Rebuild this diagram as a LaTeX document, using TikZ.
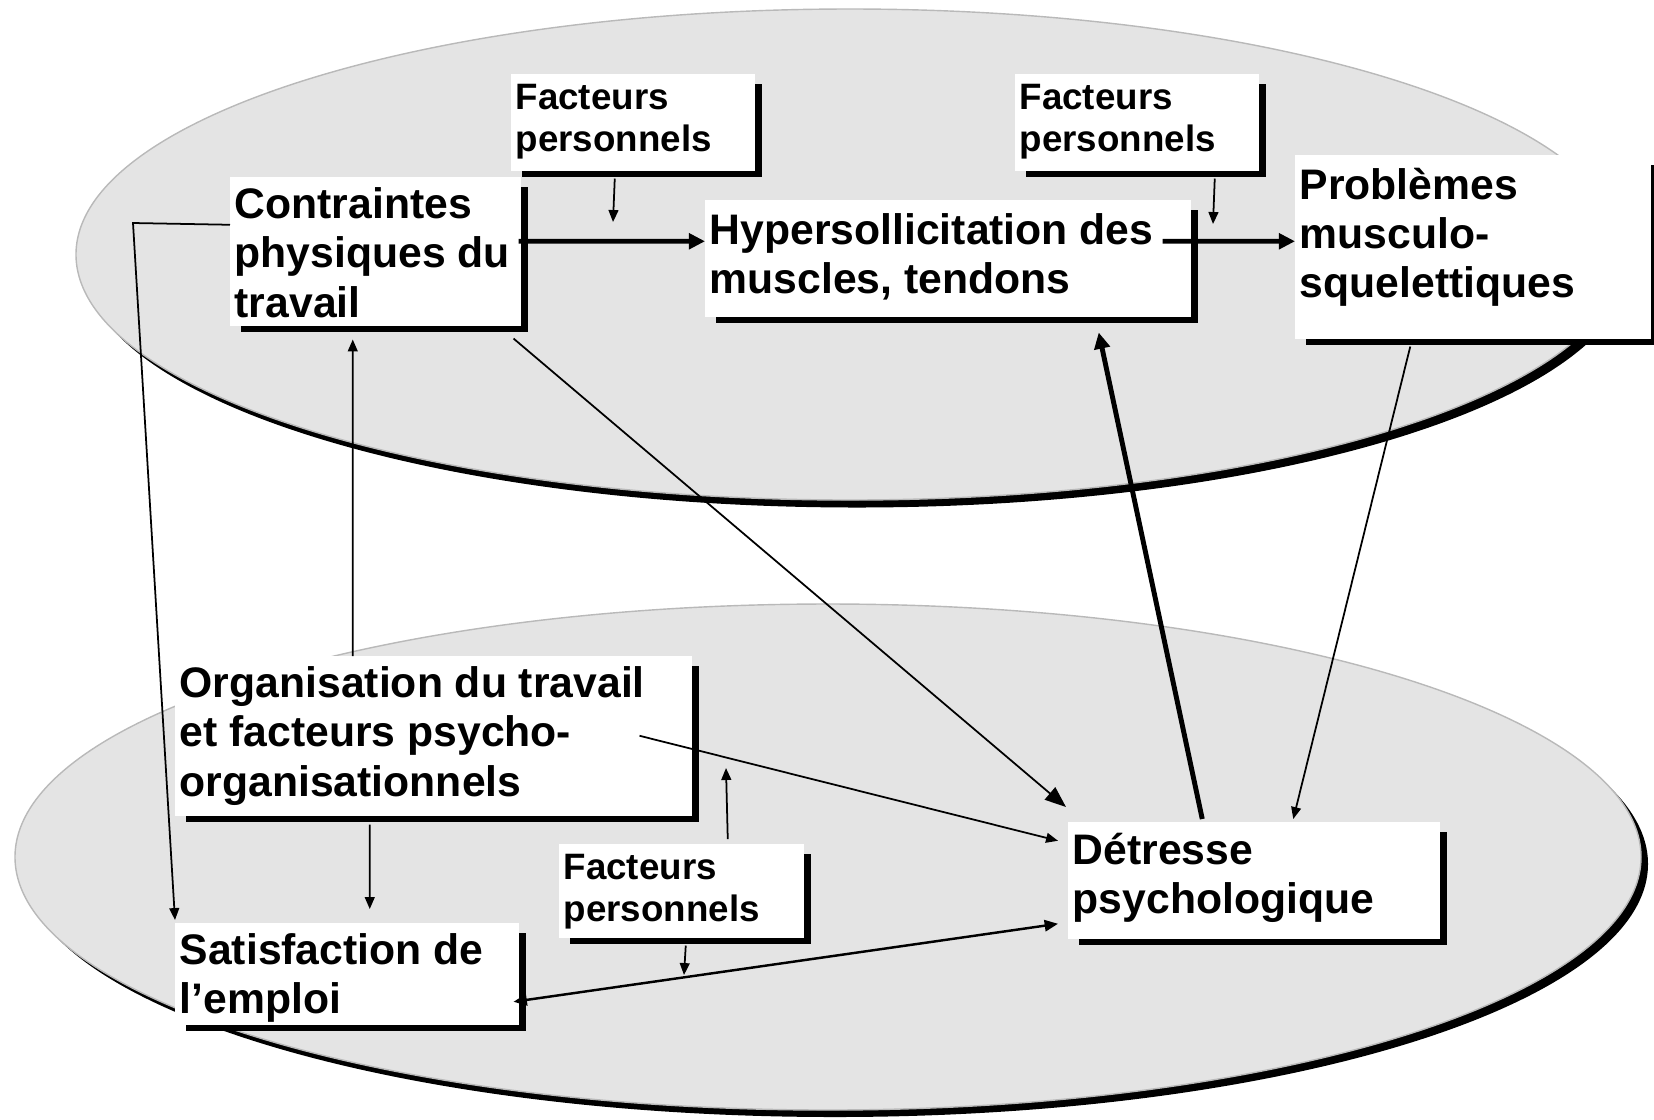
\documentclass[tikz,border=0pt]{standalone}
\usepackage{fontspec}
\setmainfont{Liberation Sans}
\usetikzlibrary{arrows.meta,shadows}
\definecolor{planegray}{RGB}{228,228,228}
\tikzstyle{plane}=[fill=planegray,draw=gray!55,line width=0.4pt]
\tikzstyle{box}=[rectangle,anchor=north west,fill=white,draw=white,line width=1pt,inner sep=0pt,
  drop shadow={fill=black,opacity=1,shadow xshift=0.09cm,shadow yshift=-0.08cm}]
\tikzstyle{bigtext}=[anchor=north west,align=left,inner sep=0pt,font=\fontsize{12.15}{14}\selectfont\bfseries]
\tikzstyle{smalltext}=[anchor=north west,align=left,inner sep=0pt,font=\fontsize{10.45}{11.9}\selectfont\bfseries]
\tikzstyle{link}=[->,line width=0.5pt,>={Triangle[length=3.4pt,width=2.8pt]}]
\tikzstyle{twoway}=[<->,line width=0.7pt,>={Triangle[length=3.8pt,width=3.2pt]}]
\tikzstyle{mainlink}=[->,line width=1.4pt,>={Triangle[length=4.6pt,width=4.4pt]}]

\begin{document}
\begin{tikzpicture}
  \useasboundingbox (0,0) rectangle (16.54,-11.19);

  % the two planes
  \fill[black] (8.57,-2.62) ellipse [x radius=7.74cm, y radius=2.455cm];
  \draw[plane] (8.50,-2.545) ellipse [x radius=7.74cm, y radius=2.455cm];
  \fill[black] (8.35,-8.64) ellipse [x radius=8.13cm, y radius=2.53cm];
  \draw[plane] (8.28,-8.57) ellipse [x radius=8.13cm, y radius=2.53cm];

  % boxes
  \node[box,minimum width=2.40cm,minimum height=0.93cm] (F1) at (5.11,-0.74) {};
  \node[box,minimum width=2.40cm,minimum height=0.93cm] (F2) at (10.15,-0.74) {};
  \node[box,minimum width=2.87cm,minimum height=1.45cm] (C) at (2.30,-1.77) {};
  \node[box,minimum width=4.82cm,minimum height=1.13cm] (H) at (7.05,-2.00) {};
  \node[box,minimum width=3.52cm,minimum height=1.80cm] (P) at (12.95,-1.55) {};
  \node[box,minimum width=5.13cm,minimum height=1.56cm] (O) at (1.75,-6.56) {};
  \node[box,minimum width=3.40cm,minimum height=0.98cm] (S) at (1.75,-9.23) {};
  \node[box,minimum width=2.41cm,minimum height=0.90cm] (F3) at (5.59,-8.44) {};
  \node[box,minimum width=3.68cm,minimum height=1.13cm] (D) at (10.68,-8.22) {};

  % texts
  \node[smalltext] (F1t) at ([shift={(0.04,-0.10)}]F1.north west) {Facteurs\\personnels};
  \node[smalltext] (F2t) at ([shift={(0.04,-0.10)}]F2.north west) {Facteurs\\personnels};
  \node[smalltext] (F3t) at ([shift={(0.04,-0.10)}]F3.north west) {Facteurs\\personnels};
  \node[bigtext] (Ct) at ([shift={(0.04,-0.10)}]C.north west) {Contraintes\\physiques du\\travail};
  \node[bigtext] (Ht) at ([shift={(0.04,-0.13)}]H.north west) {Hypersollicitation des\\muscles, tendons};
  \node[bigtext] (Pt) at ([shift={(0.04,-0.12)}]P.north west) {Problèmes\\musculo-\\squelettiques};
  \node[bigtext] (Ot) at ([shift={(0.04,-0.10)}]O.north west) {Organisation du travail\\et facteurs psycho-\\organisationnels};
  \node[bigtext] (St) at ([shift={(0.04,-0.10)}]S.north west) {Satisfaction de\\l’emploi};
  \node[bigtext] (Dt) at ([shift={(0.04,-0.10)}]D.north west) {Détresse\\psychologique};

  % points where the personal factors act
  \coordinate (k1) at (6.13,-2.22);
  \coordinate (k2) at (12.13,-2.24);
  \coordinate (k3) at (7.26,-7.68);
  \coordinate (k4) at (6.84,-9.75);
  \coordinate (bend) at (1.33,-2.23);

  % links
  \draw[mainlink] ([shift={(-0.02,0.10)}]C.east) -- ([yshift=0.17cm]H.west);
  \draw[mainlink] ([shift={(-0.28,0.17)}]H.east) -- ([yshift=0.055cm]P.west);
  \draw[mainlink] ([shift={(-0.515,0.03)}]D.north) -- ([shift={(1.51,-0.16)}]H.south);
  \draw[link] ([shift={(-0.18,-0.08)}]F1.south) -- (k1);
  \draw[link] ([shift={(0.78,-0.08)}]F2.south) -- (k2);
  \draw[link] ([xshift=-0.805cm]O.north) -- ([shift={(-0.225,-0.14)}]C.south);
  \draw[link] ([yshift=0.265cm]C.west) -- (bend) -- ([yshift=0.03cm]S.north west);
  \draw[link,>={Triangle[length=6pt,width=4.6pt]}] ([shift={(-0.07,-0.13)}]C.south east) -- ([shift={(-0.02,0.15)}]D.north west);
  \draw[link] ([xshift=-0.52cm]O.east) -- ([shift={(-0.10,0.395)}]D.west);
  \draw[link] ([shift={(-0.635,-0.09)}]O.south) -- ([shift={(0.23,0.14)}]S.north);
  \draw[link] ([shift={(0.465,0.05)}]F3.north) -- (k3);
  \draw[link] ([shift={(0.045,-0.08)}]F3.south) -- (k4);
  \draw[twoway] ([shift={(-0.05,-0.28)}]S.east) -- ([shift={(-0.10,-0.435)}]D.west);
  \draw[link] ([shift={(-0.625,-0.08)}]P.south) -- ([shift={(0.395,0.03)}]D.north);

\end{tikzpicture}
\end{document}
